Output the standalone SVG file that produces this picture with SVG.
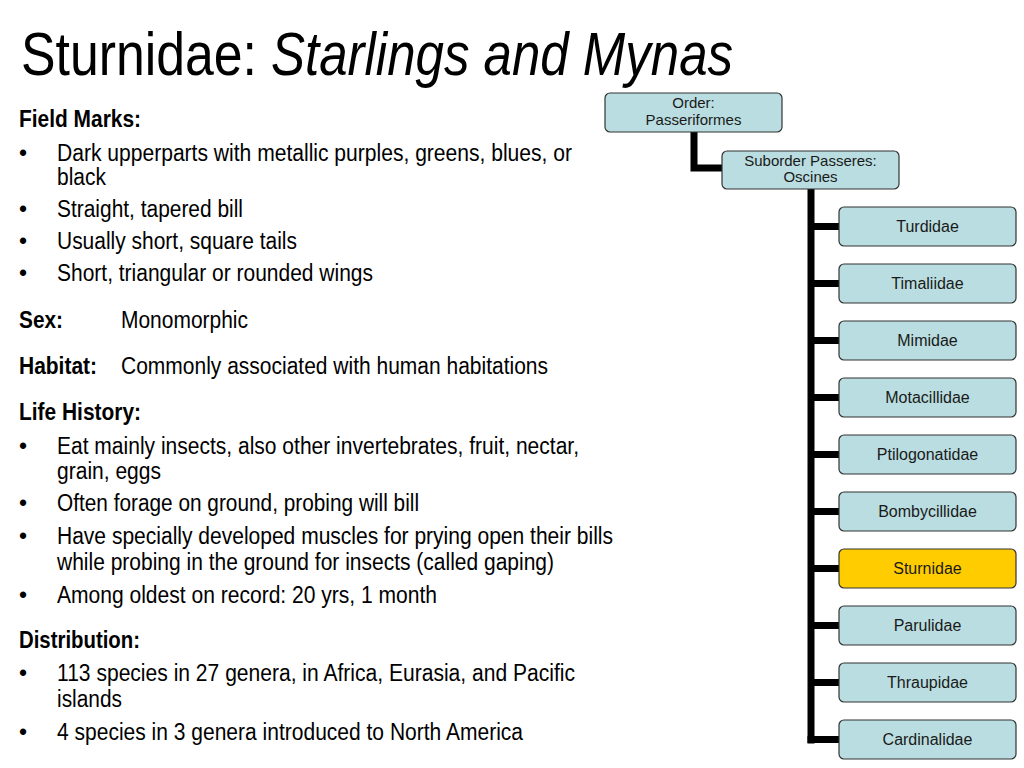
<svg xmlns="http://www.w3.org/2000/svg" width="1024" height="768" viewBox="0 0 1024 768">
<style>
.t{font-family:"Liberation Sans",Arial,sans-serif;fill:#000}
.b{font-size:23px}
.h{font-size:23px;font-weight:bold}
.box{fill:#B9DDE0;stroke:#333;stroke-width:1.2}
.hl{fill:#FFCC00;stroke:#333;stroke-width:1.2}
.bt{font-family:"Liberation Sans",Arial,sans-serif;font-size:16px;fill:#1a1a1a;text-anchor:middle}
.st{font-family:"Liberation Sans",Arial,sans-serif;font-size:15px;fill:#1a1a1a;text-anchor:middle}
.c{stroke:#000;stroke-width:7;fill:none}
</style>
<rect width="1024" height="768" fill="#fff"/>
<g id="title">
<text class="t" x="21" y="75" font-size="62" textLength="236" lengthAdjust="spacingAndGlyphs">Sturnidae:</text>
<text class="t" x="271" y="75" font-size="62" font-style="italic" textLength="462" lengthAdjust="spacingAndGlyphs">Starlings and Mynas</text>
</g>
<g id="body">
<text class="t h" x="19" y="127" textLength="122" lengthAdjust="spacingAndGlyphs">Field Marks:</text>
<text class="t b" x="19" y="161">•</text>
<text class="t b" x="57" y="161" textLength="515" lengthAdjust="spacingAndGlyphs">Dark upperparts with metallic purples, greens, blues, or</text>
<text class="t b" x="57" y="185" textLength="49" lengthAdjust="spacingAndGlyphs">black</text>
<text class="t b" x="19" y="217">•</text>
<text class="t b" x="57" y="217" textLength="186" lengthAdjust="spacingAndGlyphs">Straight, tapered bill</text>
<text class="t b" x="19" y="249">•</text>
<text class="t b" x="57" y="249" textLength="240" lengthAdjust="spacingAndGlyphs">Usually short, square tails</text>
<text class="t b" x="19" y="281">•</text>
<text class="t b" x="57" y="281" textLength="316" lengthAdjust="spacingAndGlyphs">Short, triangular or rounded wings</text>
<text class="t h" x="19" y="328" textLength="44" lengthAdjust="spacingAndGlyphs">Sex:</text>
<text class="t b" x="121" y="328" textLength="127" lengthAdjust="spacingAndGlyphs">Monomorphic</text>
<text class="t h" x="19" y="374" textLength="78" lengthAdjust="spacingAndGlyphs">Habitat:</text>
<text class="t b" x="121" y="374" textLength="427" lengthAdjust="spacingAndGlyphs">Commonly associated with human habitations</text>
<text class="t h" x="19" y="420" textLength="122" lengthAdjust="spacingAndGlyphs">Life History:</text>
<text class="t b" x="19" y="454">•</text>
<text class="t b" x="57" y="454" textLength="522" lengthAdjust="spacingAndGlyphs">Eat mainly insects, also other invertebrates, fruit, nectar,</text>
<text class="t b" x="57" y="479" textLength="104" lengthAdjust="spacingAndGlyphs">grain, eggs</text>
<text class="t b" x="19" y="511">•</text>
<text class="t b" x="57" y="511" textLength="362" lengthAdjust="spacingAndGlyphs">Often forage on ground, probing will bill</text>
<text class="t b" x="19" y="544">•</text>
<text class="t b" x="57" y="544" textLength="556" lengthAdjust="spacingAndGlyphs">Have specially developed muscles for prying open their bills</text>
<text class="t b" x="57" y="570" textLength="497" lengthAdjust="spacingAndGlyphs">while probing in the ground for insects (called gaping)</text>
<text class="t b" x="19" y="603">•</text>
<text class="t b" x="57" y="603" textLength="380" lengthAdjust="spacingAndGlyphs">Among oldest on record: 20 yrs, 1 month</text>
<text class="t h" x="19" y="648" textLength="121" lengthAdjust="spacingAndGlyphs">Distribution:</text>
<text class="t b" x="19" y="681">•</text>
<text class="t b" x="57" y="681" textLength="518" lengthAdjust="spacingAndGlyphs">113 species in 27 genera, in Africa, Eurasia, and Pacific</text>
<text class="t b" x="57" y="707" textLength="65" lengthAdjust="spacingAndGlyphs">islands</text>
<text class="t b" x="19" y="740">•</text>
<text class="t b" x="57" y="740" textLength="466" lengthAdjust="spacingAndGlyphs">4 species in 3 genera introduced to North America</text>
</g>
<g id="connectors">
<path class="c" d="M694,132 V168 H722"/>
<path class="c" d="M811,189 V743.5"/>
<path class="c" d="M811,226.5 H839 M811,283.5 H839 M811,340.5 H839 M811,397.5 H839 M811,454.5 H839 M811,511.5 H839 M811,568.5 H839 M811,625.5 H839 M811,682.5 H839 M807.5,739.5 H839"/>
</g>
<g id="order"><rect class="box" x="605" y="93" width="177" height="39" rx="5"/><text class="st" x="693.5" y="108">Order:</text><text class="st" x="693.5" y="125">Passeriformes</text></g>
<g id="suborder"><rect class="box" x="722" y="151" width="177" height="38" rx="5"/><text class="st" x="810.5" y="166">Suborder Passeres:</text><text class="st" x="810.5" y="182">Oscines</text></g>
<g id="turdidae"><rect class="box" x="839" y="207" width="177" height="39" rx="5"/><text class="bt" x="927.5" y="232">Turdidae</text></g>
<g id="timaliidae"><rect class="box" x="839" y="264" width="177" height="39" rx="5"/><text class="bt" x="927.5" y="289">Timaliidae</text></g>
<g id="mimidae"><rect class="box" x="839" y="321" width="177" height="39" rx="5"/><text class="bt" x="927.5" y="346">Mimidae</text></g>
<g id="motacillidae"><rect class="box" x="839" y="378" width="177" height="39" rx="5"/><text class="bt" x="927.5" y="403">Motacillidae</text></g>
<g id="ptilogonatidae"><rect class="box" x="839" y="435" width="177" height="39" rx="5"/><text class="bt" x="927.5" y="460">Ptilogonatidae</text></g>
<g id="bombycillidae"><rect class="box" x="839" y="492" width="177" height="39" rx="5"/><text class="bt" x="927.5" y="517">Bombycillidae</text></g>
<g id="sturnidae"><rect class="hl" x="839" y="549" width="177" height="39" rx="5"/><text class="bt" x="927.5" y="574">Sturnidae</text></g>
<g id="parulidae"><rect class="box" x="839" y="606" width="177" height="39" rx="5"/><text class="bt" x="927.5" y="631">Parulidae</text></g>
<g id="thraupidae"><rect class="box" x="839" y="663" width="177" height="39" rx="5"/><text class="bt" x="927.5" y="688">Thraupidae</text></g>
<g id="cardinalidae"><rect class="box" x="839" y="720" width="177" height="39" rx="5"/><text class="bt" x="927.5" y="745">Cardinalidae</text></g>
</svg>
